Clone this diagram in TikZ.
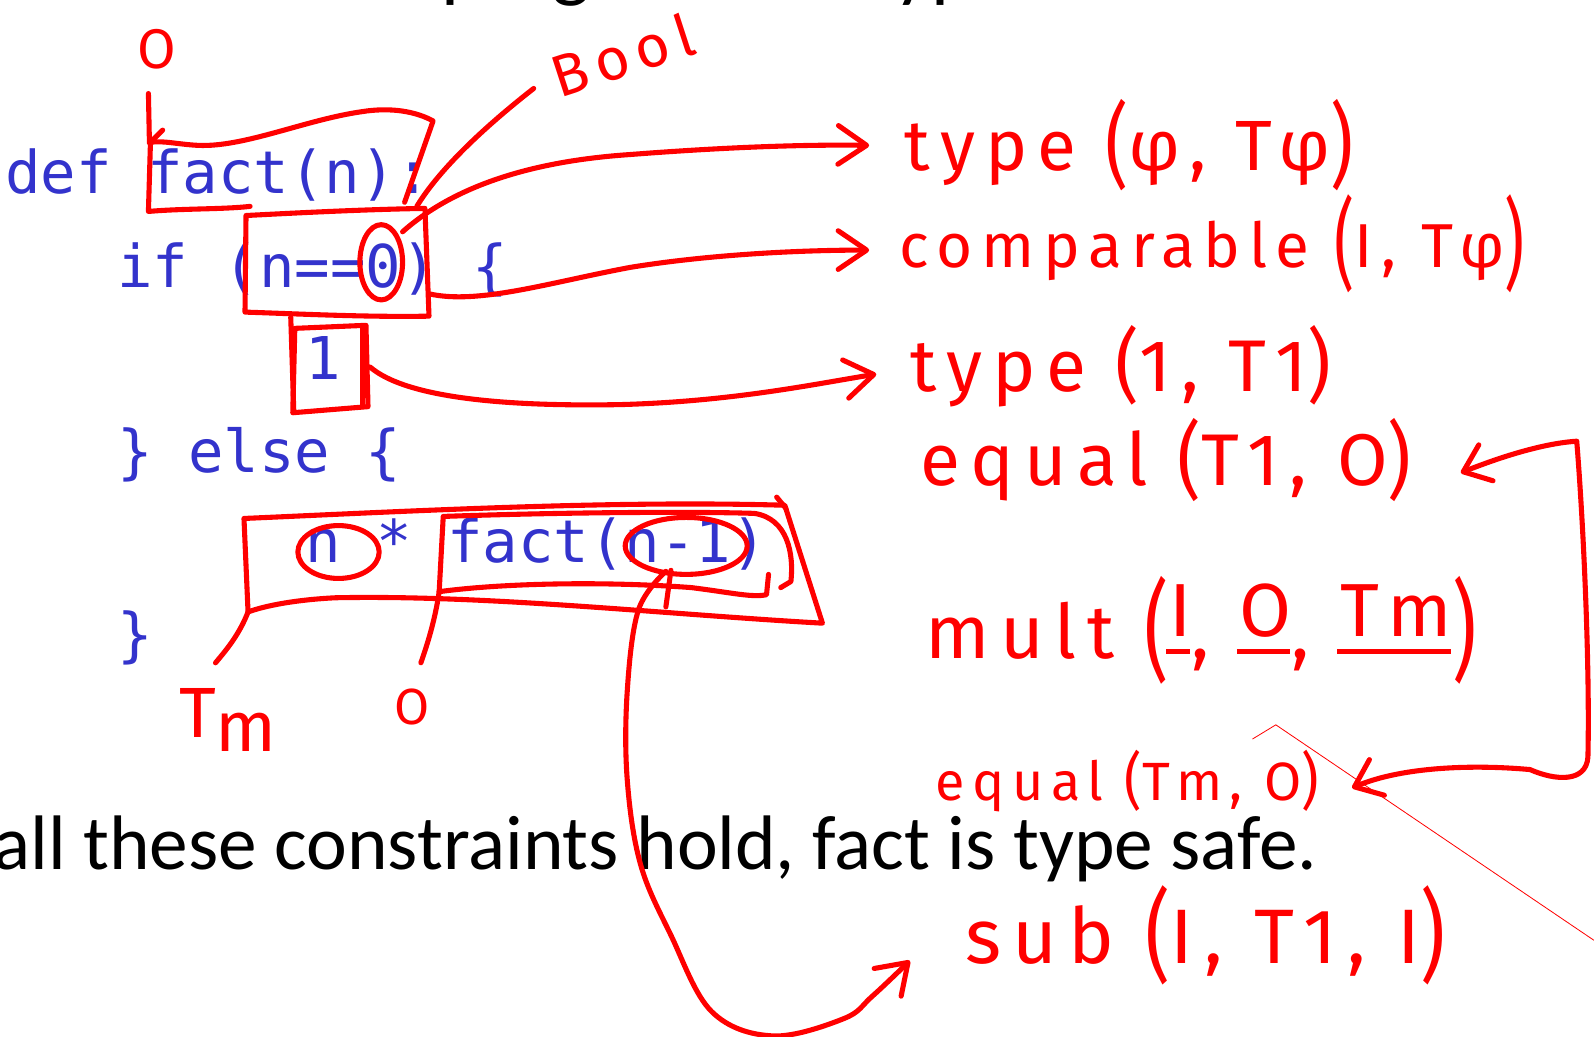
\documentclass[tikz,border=0pt]{standalone}
\usepackage{fontspec}
\usepackage{graphicx}
\usetikzlibrary{arrows.meta}
\newfontfamily\slidefont{Carlito}
\newfontfamily\codefont{DejaVu Sans Mono}
\newfontfamily\handfont[LetterSpace=14]{Fira Sans}
\definecolor{codeblue}{RGB}{51,51,204}
\definecolor{ink}{RGB}{255,0,0}
\newcommand\fsz[1]{\fontsize{#1pt}{#1pt}\selectfont}
% raised, underlined argument of a constraint
\newcommand\argu[1]{\setbox0=\hbox{#1}\raisebox{0.3em}{\rlap{\kern-0.04em\raisebox{-0.24em}{\rule{\dimexpr\wd0+0.02em\relax}{0.065em}}}\box0}}
% tall handwritten bracket: vertical stretch, drop that keeps it centred, glyph
\newcommand\tallp[3]{\raisebox{-#2em}{\scalebox{1}[#1]{#3}}}

\begin{document}
\begin{tikzpicture}[x=1pt,y=-1pt,
  code/.style={anchor=base west, inner sep=0pt, text=codeblue, font=\codefont\fsz{58}},
  slide/.style={inner sep=0pt, text=black, font=\slidefont\fsz{#1}},
  hw/.style={anchor=base west, inner sep=0pt, text=ink, font=\handfont\fsz{#1}},
  hand/.style={draw=ink, line width=5pt, line cap=round, line join=round},
  barb/.style={-{Straight Barb[length=28pt,width=38pt,round]}},
]
\fill[white] (0,0) rectangle (1568,1020);
\useasboundingbox (0,0) rectangle (1568,1020);

% slide text
\node[slide=79, anchor=base west] (title) at (297,-7) {The program has type constraints};
\node[slide=76, anchor=base east] (summary) at (1296,855) {all these constraints hold, fact is type safe.};

% program
\node[code] (l1) at (5,190) {def fact(n):};
\node[code] (l2) at (115,283) {if (n==0) \{};
\node[code] (l3) at (300,373) {1};
\node[code] (l4) at (115,465) {\} else \{};
\node[code] (l5) at (300,553) {n * fact(n-1)};
\node[code] (l6) at (115,645) {\}};

% type variables written beside the program
\node[hw=55] (otop) at (135,67) {O};
\node[hw=58, anchor=center, rotate=18] (bool) at (612,54) {Bool};
\node[hw=70] (tm) at (176,725) {T\raisebox{-14pt}{m}};
\node[hw=50] (obot) at (388,713) {O};

% constraints
\node[hw=70] (c1) at (890,168) {type \tallp{1.3}{0.09}{(}φ, Tφ\tallp{1.3}{0.09}{)}};
\node[hw=61] (c2) at (885,263) {comparable \tallp{1.6}{0.18}{(}I, Tφ\tallp{1.6}{0.18}{)}};
\node[hw=72] (c3) at (895,385) {type \tallp{1.1}{0.03}{(}1, T1\tallp{1.1}{0.03}{)}};
\node[hw=72] (c4) at (905,478) {equal \tallp{1.15}{0.045}{(}T1, O\tallp{1.15}{0.045}{)}};
\node[hw=74] (c5) at (910,648) {mult \tallp{1.45}{0.135}{(}\argu{I}, \argu{O}, \argu{Tm}\tallp{1.45}{0.135}{)}};
\node[hw=53] (c6) at (920,787) {equal \tallp{1.15}{0.045}{(}Tm, O\tallp{1.15}{0.045}{)}};
\node[hw=76] (c7) at (950,948) {sub \tallp{1.3}{0.09}{(}I, T1, I\tallp{1.3}{0.09}{)}};

% connector end points
\coordinate (otail) at (146,92);
\coordinate (factcorner) at (147,141);
\coordinate (boolfoot) at (525,87);
\coordinate (boolend) at (410,203);
\coordinate (zeroedge) at (396,228);
\coordinate (c1tip) at (855,143);
\coordinate (condedge) at (422,289);
\coordinate (c2tip) at (855,246);
\coordinate (oneedge) at (364,361);
\coordinate (c3tip) at (862,368);
\coordinate (prodcorner) at (244,602);
\coordinate (tmtop) at (212,652);
\coordinate (callcorner) at (432,582);
\coordinate (obtop) at (414,652);
\coordinate (c4tip) at (1437,465);
\coordinate (c6tip) at (1330,775);

% box round fact(n)
\draw[hand] (398,199) -- (426,119) .. controls (410,110) and (385,105) .. (355,110)
  .. controls (300,118) and (240,145) .. (195,143) .. controls (175,142) and (160,138) .. (148,140)
  -- (146,208) .. controls (180,205) and (220,206) .. (246,203);
\draw[hand] (otail) -- (factcorner) -- (160,128);
\draw[hand] (boolfoot) .. controls (470,130) and (430,170) .. (boolend);

% box round the condition and the circled 0
\draw[hand] (242,212) .. controls (300,209) and (360,206) .. (418,205) -- (422,311)
  .. controls (360,312) and (300,309) .. (241,307) -- cycle;
\draw[hand] (375,258) ellipse [x radius=21pt, y radius=37pt];

% box round 1
\draw[hand] (290,323) -- (360,320) -- (362,400) -- (288,406) -- cycle;
\draw[hand] (286,312) -- (289,405);
\draw[hand] (357,323) -- (357,400);

% constraint arrows
\draw[hand, barb] (zeroedge) .. controls (450,180) and (530,158) .. (620,152)
  .. controls (710,145) and (790,142) .. (c1tip);
\draw[hand, barb] (condedge) .. controls (470,300) and (540,278) .. (620,263)
  .. controls (700,250) and (790,246) .. (c2tip);
\draw[hand, barb] (oneedge) .. controls (400,392) and (500,400) .. (610,398)
  .. controls (720,395) and (800,378) .. (c3tip);

% boxes round the product and the recursive call
\draw[hand] (prodcorner) -- (240,510) .. controls (400,503) and (600,492) .. (772,497) -- (809,613)
  .. controls (650,604) and (480,585) .. (330,588) .. controls (290,590) and (260,596) .. (prodcorner);
\draw[hand] (764,489) -- (773,500);
\draw[hand] (callcorner) -- (436,508) .. controls (550,504) and (680,503) .. (742,505)
  .. controls (775,510) and (781,545) .. (778,572) -- (768,578);
\draw[hand] (callcorner) .. controls (500,573) and (600,572) .. (680,578)
  .. controls (720,583) and (740,588) .. (754,585) -- (756,565);
\draw[hand] (333,543) ellipse [x radius=40pt, y radius=26pt];
\draw[hand] (675,537) ellipse [x radius=60pt, y radius=28pt];
\draw[hand] (prodcorner) .. controls (235,625) and (222,640) .. (tmtop);
\draw[hand] (callcorner) .. controls (428,610) and (420,635) .. (obtop);

% n-1 leads to the subtraction constraint
\draw[hand, barb] plot[smooth, tension=0.6] coordinates {(655,562) (628,600) (617,680) (617,767)
  (630,850) (660,920) (700,995) (760,1019) (830,1002) (858,980) (895,945)};
\draw[hand] (660,561) -- (655,597);

% the two equalities are linked
\draw[hand, {Straight Barb[length=24pt,width=38pt,round]}-{Straight Barb[length=24pt,width=38pt,round]}]
  (c4tip) .. controls (1480,448) and (1520,436) .. (1551,434)
  .. controls (1558,520) and (1564,660) .. (1562,745)
  .. controls (1560,770) and (1530,768) .. (1505,757)
  .. controls (1450,752) and (1380,754) .. (c6tip);

% stray thin stroke
\draw[ink, line width=0.8pt] (1232,727) -- (1255,713) -- (1568,925);
\end{tikzpicture}
\end{document}
